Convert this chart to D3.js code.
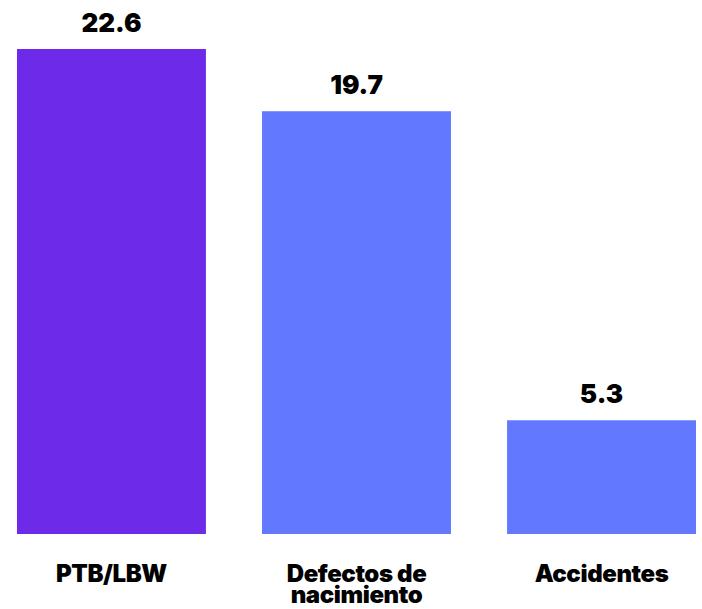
<!DOCTYPE html>
<html>
<head>
<meta charset="utf-8">
<script src="https://cdn.jsdelivr.net/npm/d3@7"></script>
<style>
  body { margin: 0; background: #fff; }
  text { font-family: Inter, "Liberation Sans", Arial, sans-serif; font-weight: 800; fill: #000; }
</style>
</head>
<body>
<div id="chart"></div>
<script>
// data
const categories = ["PTB/LBW", "Defectos de\nnacimiento", "Accidentes"];
const values = [22.6, 19.7, 5.3];
const valueLabels = ["22.6", "19.7", "5.3"];
const colors = ["#6D2AE9", "#6178FF", "#6178FF"];

const width = 702, height = 609;

const svg = d3.select("#chart").append("svg")
    .attr("width", width)
    .attr("height", height);

// scales
const x = d3.scaleBand()
    .domain(d3.range(values.length))
    .range([17, 696])
    .paddingInner(0.229)
    .paddingOuter(0);

const y = d3.scaleLinear()
    .domain([0, 22.6])
    .range([534, 49]);

// bars
svg.selectAll("rect.bar")
    .data(values)
    .enter().append("rect")
    .attr("class", "bar")
    .attr("x", (d, i) => x(i))
    .attr("y", d => y(d))
    .attr("width", x.bandwidth())
    .attr("height", d => y(0) - y(d))
    .attr("fill", (d, i) => colors[i]);

// value labels
svg.selectAll("text.val")
    .data(values)
    .enter().append("text")
    .attr("class", "val")
    .attr("x", (d, i) => x(i) + x.bandwidth() / 2)
    .attr("y", d => y(d) - 17)
    .attr("text-anchor", "middle")
    .style("font-size", "26px")
    .style("font-weight", 900)
    .text((d, i) => valueLabels[i]);

// category labels
const cat = svg.selectAll("text.cat")
    .data(categories)
    .enter().append("text")
    .attr("class", "cat")
    .attr("x", (d, i) => x(i) + x.bandwidth() / 2)
    .attr("y", 582)
    .attr("text-anchor", "middle")
    .style("font-size", "24px")
    .style("font-weight", 900)
    .style("letter-spacing", "-0.4px");

cat.selectAll("tspan")
    .data((d, i) => d.split("\n").map(s => ({ s: s, i: i })))
    .enter().append("tspan")
    .attr("x", d => x(d.i) + x.bandwidth() / 2)
    .attr("dy", (d, j) => j === 0 ? 0 : 21)
    .text(d => d.s);
</script>
</body>
</html>
